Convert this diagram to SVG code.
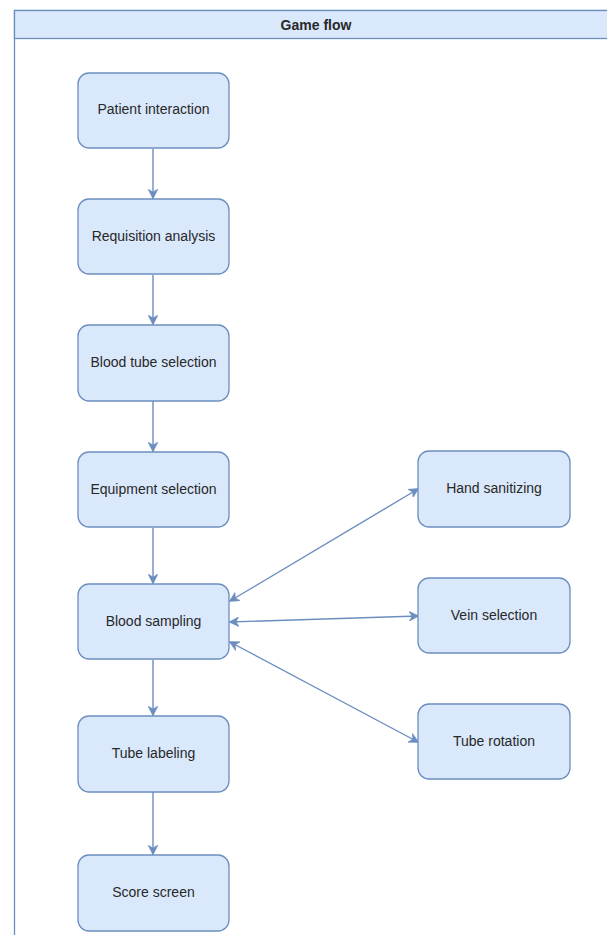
<svg xmlns="http://www.w3.org/2000/svg" width="607" height="935" viewBox="0 0 607 935">
<style>
.node rect{fill:#dae8fc;stroke:#6c8ebf;stroke-width:1.3}
.node text,.hdr text{font-family:"Liberation Sans",Arial,sans-serif;font-size:14px;fill:#282828;text-anchor:middle;dominant-baseline:central}
.edge{stroke:#6c8ebf;stroke-width:1.4;fill:none}
</style>
<defs>
<marker id="ah" viewBox="0 0 10 10" refX="9" refY="5" markerWidth="10" markerHeight="10" markerUnits="userSpaceOnUse" orient="auto-start-reverse">
<path d="M0,0 L10,5 L0,10 L3,5 Z" fill="#6c8ebf" stroke="#6c8ebf" stroke-width="0.5"/>
</marker>
</defs>
<rect width="607" height="935" fill="#ffffff"/>
<g id="container" class="hdr">
<rect x="14.5" y="10.5" width="600" height="940" fill="#ffffff" stroke="#6c8ebf" stroke-width="1.3"/>
<rect x="14.5" y="10.5" width="600" height="28" fill="#dae8fc" stroke="#6c8ebf" stroke-width="1.3"/>
<text x="316" y="24.5" font-weight="bold" font-size="13.5">Game flow</text>
</g>
<g id="connectors">
<line class="edge" x1="153" y1="149" x2="153" y2="198" marker-end="url(#ah)"/>
<line class="edge" x1="153" y1="275" x2="153" y2="324" marker-end="url(#ah)"/>
<line class="edge" x1="153" y1="401" x2="153" y2="451" marker-end="url(#ah)"/>
<line class="edge" x1="153" y1="528" x2="153" y2="583" marker-end="url(#ah)"/>
<line class="edge" x1="153" y1="660" x2="153" y2="715" marker-end="url(#ah)"/>
<line class="edge" x1="153" y1="792" x2="153" y2="854" marker-end="url(#ah)"/>
<line class="edge" x1="230" y1="601" x2="418" y2="489" marker-start="url(#ah)" marker-end="url(#ah)"/>
<line class="edge" x1="230" y1="622" x2="418" y2="616" marker-start="url(#ah)" marker-end="url(#ah)"/>
<line class="edge" x1="230" y1="642" x2="418" y2="742" marker-start="url(#ah)" marker-end="url(#ah)"/>
</g>
<g id="patient-interaction" class="node"><rect x="78" y="73" width="151" height="75" rx="11"/><text x="153.5" y="109">Patient interaction</text></g>
<g id="requisition-analysis" class="node"><rect x="78" y="199" width="151" height="75" rx="11"/><text x="153.5" y="235.5">Requisition analysis</text></g>
<g id="blood-tube-selection" class="node"><rect x="78" y="325" width="151" height="76" rx="11"/><text x="153.5" y="361.5">Blood tube selection</text></g>
<g id="equipment-selection" class="node"><rect x="78" y="452" width="151" height="75" rx="11"/><text x="153.5" y="488.5">Equipment selection</text></g>
<g id="blood-sampling" class="node"><rect x="78" y="584" width="151" height="75" rx="11"/><text x="153.5" y="620.5">Blood sampling</text></g>
<g id="tube-labeling" class="node"><rect x="78" y="716" width="151" height="76" rx="11"/><text x="153.5" y="752.5">Tube labeling</text></g>
<g id="score-screen" class="node"><rect x="78" y="855" width="151" height="76" rx="11"/><text x="153.5" y="891.5">Score screen</text></g>
<g id="hand-sanitizing" class="node"><rect x="418" y="451" width="152" height="76" rx="11"/><text x="494" y="488">Hand sanitizing</text></g>
<g id="vein-selection" class="node"><rect x="418" y="578" width="152" height="75" rx="11"/><text x="494" y="614.5">Vein selection</text></g>
<g id="tube-rotation" class="node"><rect x="418" y="704" width="152" height="75" rx="11"/><text x="494" y="740.5">Tube rotation</text></g>
</svg>
